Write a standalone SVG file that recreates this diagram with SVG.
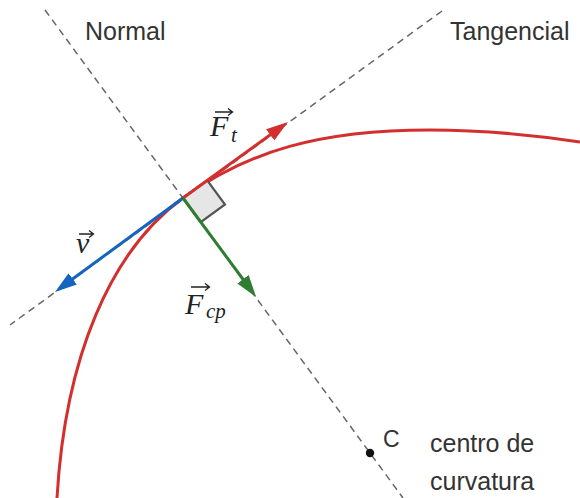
<svg xmlns="http://www.w3.org/2000/svg" width="580" height="498" viewBox="0 0 580 498">
<defs>
<style>
.axis{stroke:#666;stroke-width:1.5;stroke-dasharray:7 5;fill:none}
.lbl{font-family:"Liberation Sans",Arial,sans-serif;font-size:25px;fill:#333}
.math{font-family:"Liberation Serif","Times New Roman",serif;font-style:italic;fill:#222}
.vec{stroke:#222;stroke-width:1.3;fill:none}
.arr{stroke-width:3;fill:none}
</style>
<marker id="hr" markerUnits="userSpaceOnUse" markerWidth="24" markerHeight="16" refX="4" refY="7" orient="auto"><path d="M0,0 L22,7 L0,14 z" fill="#d32f2f"/></marker>
<marker id="hb" markerUnits="userSpaceOnUse" markerWidth="24" markerHeight="16" refX="4" refY="7" orient="auto"><path d="M0,0 L22,7 L0,14 z" fill="#1565c0"/></marker>
<marker id="hg" markerUnits="userSpaceOnUse" markerWidth="24" markerHeight="16" refX="4" refY="7" orient="auto"><path d="M0,0 L22,7 L0,14 z" fill="#2e7d32"/></marker>
</defs>
<rect width="580" height="498" fill="#fff"/>
<g id="axes">
<line class="axis" x1="45" y1="10" x2="403" y2="498"/>
<line class="axis" x1="442" y1="11" x2="10" y2="325"/>
</g>
<g id="curve">
<path d="M57,498 C65,358 110,251 183,198 C248,151 320,130 430,130 C490,130 540,136 580,142" fill="none" stroke="#d32f2f" stroke-width="3"/>
</g>
<g id="right-angle">
<polygon points="183,198 207.2,180.4 225,204.5 200.7,222.2" fill="#e6e6e6" stroke="#555" stroke-width="2.2"/>
</g>
<g id="connectors">
<line class="arr" stroke="#d32f2f" x1="183" y1="198" x2="273.4" y2="132.5" marker-end="url(#hr)"/>
<line class="arr" stroke="#1565c0" x1="183" y1="198" x2="69.5" y2="281.3" marker-end="url(#hb)"/>
<line class="arr" stroke="#2e7d32" x1="183" y1="198" x2="245.4" y2="282.5" marker-end="url(#hg)"/>
</g>
<g id="point-C">
<circle cx="370" cy="453" r="4.2" fill="#111"/>
<text class="lbl" x="383" y="447" style="font-size:23px">C</text>
</g>
<g id="labels">
<text class="lbl" x="85" y="40">Normal</text>
<text class="lbl" x="450" y="40">Tangencial</text>
<text class="lbl" x="430" y="452">centro de</text>
<text class="lbl" x="430" y="490">curvatura</text>
</g>
<g id="label-Ft">
<text class="math" x="210" y="136" font-size="30">F</text>
<text class="math" x="231" y="142" font-size="21">t</text>
<path class="vec" d="M215,112 H232 M228,108.5 L232.5,112 L228,115.5"/>
</g>
<g id="label-v">
<text class="math" x="76" y="253" font-size="30">v</text>
<path class="vec" d="M79,234 H93 M89,230.5 L93.5,234 L89,237.5"/>
</g>
<g id="label-Fcp">
<text class="math" x="185" y="314" font-size="30">F</text>
<text class="math" x="206" y="318" font-size="21">cp</text>
<path class="vec" d="M191,287 H209 M205,283.5 L209.5,287 L205,290.5"/>
</g>
</svg>
